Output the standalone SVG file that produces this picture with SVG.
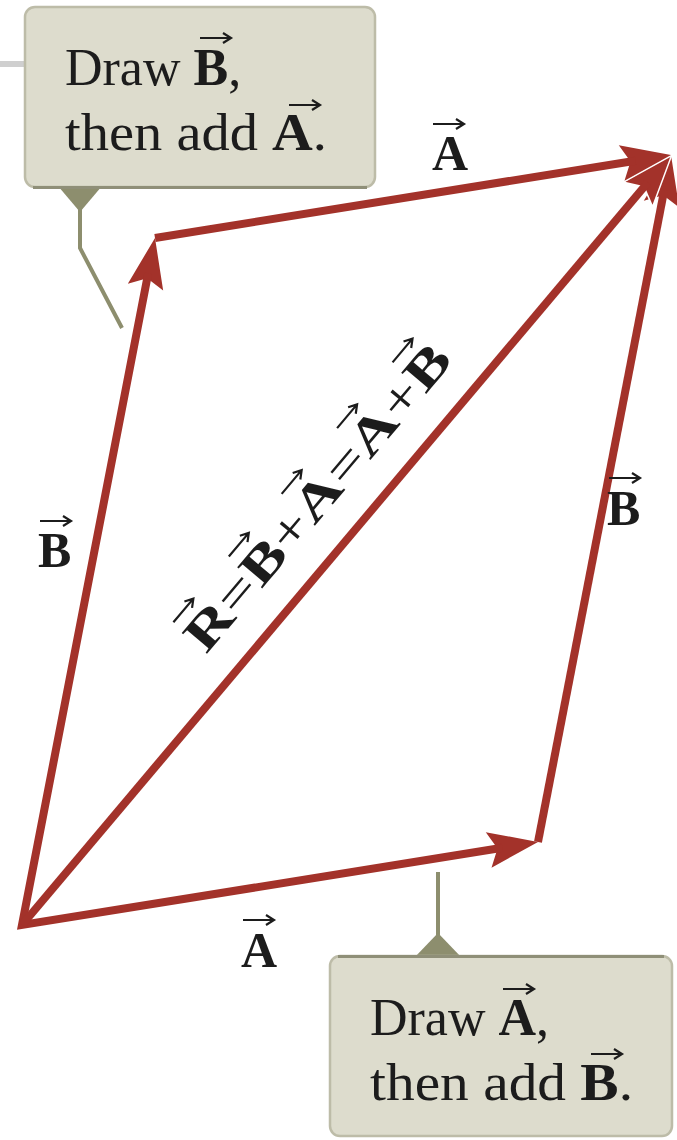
<svg xmlns="http://www.w3.org/2000/svg" xmlns:xlink="http://www.w3.org/1999/xlink" width="677" height="1140" viewBox="0 0 677 1140">
<style>
.shaft{fill:none;stroke:#a3322a;stroke-width:8;stroke-linejoin:miter;stroke-miterlimit:10}
.lbl{font-family:"Liberation Serif","Times New Roman",serif;font-size:50px;font-weight:bold;fill:#1c1c1c}
.btxt{font-family:"Liberation Serif","Times New Roman",serif;font-size:52px;fill:#1c1c1c}
.b{font-weight:bold}
.box{fill:#dddccd;stroke:#bdbca8;stroke-width:2.5}
.boxshadow{fill:none;stroke:#8f8f78;stroke-width:3}
.ptr{fill:none;stroke:#8d8e6e;stroke-width:4}
.ptrhead{fill:#8d8e6e}
</style>
<defs>
<path id="head" d="M0,0 L-50,-18 L-41,0 L-50,18 Z" fill="#a3322a" stroke="#ffffff" stroke-width="3" stroke-linejoin="miter" paint-order="stroke"/>
<path id="va" d="M0,0 H30 M23,-5 L31,0 L23,5" fill="none" stroke="#1c1c1c" stroke-width="2.2"/>
</defs>
<rect x="0" y="61" width="25" height="6" fill="#cfcfcf"/>
<g id="connectors">
<use xlink:href="#head" transform="translate(538,842) rotate(-9.14)"/>
<use xlink:href="#head" transform="translate(155,238) rotate(-79.04)"/>
<path class="shaft" d="M148.2,273.3 L22,925 L502.5,847.7"/>
<use xlink:href="#head" transform="translate(671,155) rotate(-79.04)"/>
<path class="shaft" d="M538,842 L664.2,190.3"/>
<use xlink:href="#head" transform="translate(671,155) rotate(-49.87)"/>
<path class="shaft" d="M22,925 L647.8,182.5"/>
<use xlink:href="#head" transform="translate(671,155) rotate(-9.14)"/>
<path class="shaft" d="M155,238 L635.5,160.7"/>
</g>
<g id="label-A-top">
<text class="lbl" x="432" y="170">A</text>
<use xlink:href="#va" transform="translate(433,124)"/>
</g>
<g id="label-B-left">
<text class="lbl" x="38" y="567">B</text>
<use xlink:href="#va" transform="translate(40,521)"/>
</g>
<g id="label-B-right">
<text class="lbl" x="607" y="525">B</text>
<use xlink:href="#va" transform="translate(609,478)"/>
</g>
<g id="label-A-bottom">
<text class="lbl" x="241" y="967">A</text>
<use xlink:href="#va" transform="translate(243,920)"/>
</g>
<g id="label-R" transform="translate(206,655) rotate(-49.87)">
<text class="lbl" x="0" y="0" textLength="385" lengthAdjust="spacingAndGlyphs">R<tspan font-weight="normal">=</tspan>B<tspan font-weight="normal">+</tspan>A<tspan font-weight="normal">=</tspan>A<tspan font-weight="normal">+</tspan>B</text>
<use xlink:href="#va" transform="translate(4,-46)"/>
<use xlink:href="#va" transform="translate(90,-46)"/>
<use xlink:href="#va" transform="translate(172,-46)"/>
<use xlink:href="#va" transform="translate(258,-46)"/>
<use xlink:href="#va" transform="translate(344,-46)"/>
</g>
<g id="box-top">
<polygon class="ptrhead" points="58,186 102,186 80,212"/>
<polyline class="ptr" points="80,205 80,248 122,328"/>
<rect class="box" x="25" y="7" width="350" height="180" rx="10"/>
<path class="boxshadow" d="M33,187.5 H367"/>
<text class="btxt" x="65" y="85">Draw <tspan class="b">B</tspan>,</text>
<text class="btxt" x="65" y="150" textLength="262" lengthAdjust="spacingAndGlyphs">then add <tspan class="b">A</tspan>.</text>
<use xlink:href="#va" transform="translate(200,38)"/>
<use xlink:href="#va" transform="translate(289,105)"/>
</g>
<g id="box-bottom">
<polyline class="ptr" points="438,872 438,945"/>
<polygon class="ptrhead" points="414,958 462,958 438,933"/>
<rect class="box" x="330" y="956" width="342" height="180" rx="10"/>
<path class="boxshadow" d="M338,956.5 H664"/>
<text class="btxt" x="370" y="1035">Draw <tspan class="b">A</tspan>,</text>
<text class="btxt" x="370" y="1100" textLength="263" lengthAdjust="spacingAndGlyphs">then add <tspan class="b">B</tspan>.</text>
<use xlink:href="#va" transform="translate(503,989)"/>
<use xlink:href="#va" transform="translate(591,1054)"/>
</g>
</svg>
